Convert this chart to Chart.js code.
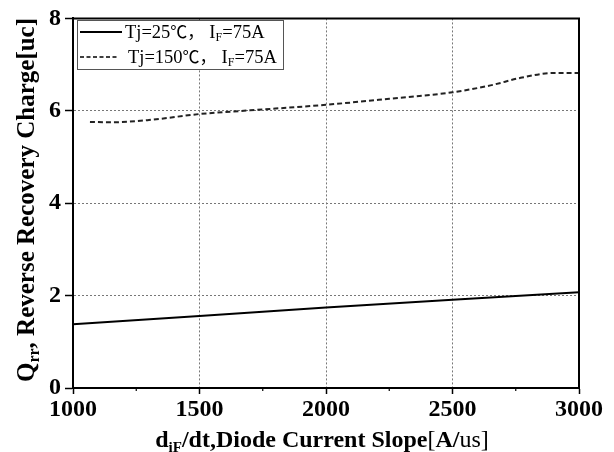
<!DOCTYPE html>
<html>
<head>
<meta charset="utf-8">
<script src="https://cdn.jsdelivr.net/npm/chart.js@4/dist/chart.umd.min.js"></script>
<style>
  html, body { margin: 0; padding: 0; background: #fff; }
  #wrap { width: 614px; height: 452px; }
</style>
</head>
<body>
<div id="wrap"><canvas id="c" width="614" height="452"></canvas></div>
<script>
// ---- data ----
const xTicks = [1000, 1500, 2000, 2500, 3000];
const yTicks = [0, 2, 4, 6, 8];
const series25Label = "Tj=25℃，IF=75A";
const series150Label = "Tj=150℃，IF=75A";
const slope25 = [1000, 1500, 2000, 2500, 3000];
const qrr25 = [1.38, 1.56, 1.74, 1.91, 2.07];
const slope150 = [1067, 1150, 1300, 1500, 1700, 2000, 2250, 2500, 2650, 2775, 2900, 3000];
const qrr150 = [5.76, 5.75, 5.80, 5.93, 6.01, 6.13, 6.26, 6.40, 6.55, 6.72, 6.82, 6.82];

const toXY = (xs, ys) => xs.map((x, i) => ({ x: x, y: ys[i] }));
const SERIF = '"Liberation Serif", "Times New Roman", "Noto Sans CJK SC", serif';
const CJK = '"Noto Sans CJK SC", sans-serif';

function drawRich(ctx, segs, x, y, align) {
  // segs: {t, size, bold, dy, fam}
  let total = 0;
  const fontOf = s => (s.bold ? 'bold ' : '') + s.size + 'px ' + (s.fam || SERIF);
  segs.forEach(s => {
    ctx.font = fontOf(s);
    s.w = ctx.measureText(s.t).width + (s.gap || 0);
    total += s.w;
  });
  let cx = align === 'center' ? x - total / 2 : x;
  segs.forEach(s => {
    ctx.font = fontOf(s);
    ctx.fillText(s.t, cx, y + (s.dy || 0));
    cx += s.w;
  });
  return total;
}

const decor = {
  id: 'decor',
  afterDraw(chart) {
    const ctx = chart.ctx;
    const a = chart.chartArea;
    const xs = chart.scales.x;
    ctx.save();
    // top and right frame
    ctx.strokeStyle = '#000';
    ctx.lineWidth = 2;
    ctx.beginPath();
    ctx.moveTo(a.left, a.top);
    ctx.lineTo(a.right, a.top);
    ctx.lineTo(a.right, a.bottom);
    ctx.stroke();
    // minor ticks on x axis
    ctx.lineWidth = 1.2;
    [1250, 1750, 2250, 2750].forEach(v => {
      const px = xs.getPixelForValue(v);
      ctx.beginPath();
      ctx.moveTo(px, a.bottom);
      ctx.lineTo(px, a.bottom + 3);
      ctx.stroke();
    });
    // legend box
    const lx = 77, ly = 20, lw = 206, lh = 49;
    ctx.fillStyle = '#fff';
    ctx.fillRect(lx, ly, lw, lh);
    ctx.strokeStyle = '#555';
    ctx.lineWidth = 1;
    ctx.strokeRect(lx + 0.5, ly + 0.5, lw, lh);
    ctx.strokeStyle = '#000';
    ctx.lineWidth = 1.8;
    ctx.beginPath();
    ctx.moveTo(80, 32); ctx.lineTo(122, 32);
    ctx.stroke();
    ctx.setLineDash([4, 2.5]);
    ctx.lineWidth = 1.4;
    ctx.beginPath();
    ctx.moveTo(80, 57); ctx.lineTo(118, 57);
    ctx.stroke();
    ctx.setLineDash([]);
    ctx.fillStyle = '#000';
    ctx.textBaseline = 'alphabetic';
    ctx.textAlign = 'left';
    drawRich(ctx, [
      { t: 'Tj=25', size: 18.5 },
      { t: '℃，', size: 17, fam: CJK, gap: 5 },
      { t: 'I', size: 18.5 },
      { t: 'F', size: 12, dy: 3 },
      { t: '=75A', size: 18.5 }
    ], 125, 38);
    drawRich(ctx, [
      { t: 'Tj=150', size: 18.5 },
      { t: '℃，', size: 17, fam: CJK, gap: 5 },
      { t: 'I', size: 18.5 },
      { t: 'F', size: 12, dy: 3 },
      { t: '=75A', size: 18.5 }
    ], 128, 63);
    // x axis title
    drawRich(ctx, [
      { t: 'd', size: 24, bold: true },
      { t: 'iF', size: 15, bold: true, dy: 5 },
      { t: '/dt,Diode Current Slope', size: 24, bold: true },
      { t: '[', size: 24 },
      { t: 'A/', size: 24, bold: true },
      { t: 'us]', size: 24 }
    ], (a.left + a.right) / 2 - 4, 447, 'center');
    // y axis title
    ctx.translate(34, 200);
    ctx.rotate(-Math.PI / 2);
    drawRich(ctx, [
      { t: 'Q', size: 25, bold: true },
      { t: 'rr', size: 16, bold: true, dy: 5 },
      { t: ', Reverse Recovery Charge[uc]', size: 25, bold: true }
    ], 0, 0, 'center');
    ctx.restore();
  }
};

const interiorGrid = (vals) => (ctx) => {
  const v = ctx.tick && ctx.tick.value;
  return (v !== undefined && vals.includes(v)) ? '#777' : 'rgba(0,0,0,0)';
};

new Chart(document.getElementById('c'), {
  type: 'line',
  data: {
    datasets: [
      {
        label: series25Label,
        data: toXY(slope25, qrr25),
        borderColor: '#000',
        borderWidth: 2,
        pointRadius: 0,
        tension: 0
      },
      {
        label: series150Label,
        data: toXY(slope150, qrr150),
        borderColor: '#222',
        borderWidth: 2,
        borderDash: [5, 3],
        pointRadius: 0,
        cubicInterpolationMode: 'monotone'
      }
    ]
  },
  options: {
    responsive: false,
    animation: false,
    devicePixelRatio: 1,
    layout: { padding: { top: 17, right: 35, left: 0, bottom: 0 } },
    plugins: { legend: { display: false }, tooltip: { enabled: false } },
    scales: {
      x: {
        type: 'linear',
        min: xTicks[0],
        max: xTicks[xTicks.length - 1],
        afterBuildTicks: (s) => { s.ticks = xTicks.map(v => ({ value: v })); },
        afterFit: (s) => { s.height = 64; },
        ticks: {
          color: '#000',
          font: { family: SERIF, size: 24, weight: 'bold' },
          padding: 1,
          maxRotation: 0,
          callback: (v) => String(v)
        },
        grid: {
          color: interiorGrid([1500, 2000, 2500]),
          lineWidth: 1,
          tickColor: '#000',
          tickLength: 6,
          tickWidth: 1.5
        },
        border: { display: true, color: '#000', width: 2, dash: [2, 2] }
      },
      y: {
        min: yTicks[0],
        max: yTicks[yTicks.length - 1],
        afterBuildTicks: (s) => { s.ticks = yTicks.map(v => ({ value: v })); },
        afterFit: (s) => { s.width = 73; },
        ticks: {
          color: '#000',
          font: { family: SERIF, size: 24, weight: 'bold' },
          padding: 4,
          callback: (v) => String(v)
        },
        grid: {
          color: interiorGrid([2, 4, 6]),
          lineWidth: 1,
          tickColor: '#000',
          tickLength: 8,
          tickWidth: 1.5
        },
        border: { display: true, color: '#000', width: 2, dash: [2, 2] }
      }
    }
  },
  plugins: [decor]
});
</script>
</body>
</html>
